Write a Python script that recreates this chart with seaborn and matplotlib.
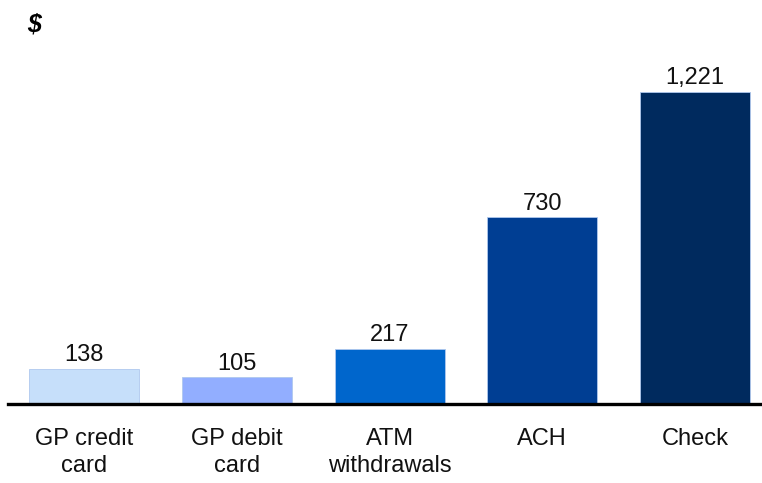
import matplotlib
matplotlib.use("Agg")
import matplotlib.pyplot as plt
import seaborn as sns
import pandas as pd

categories = ["GP credit\ncard", "GP debit\ncard", "ATM\nwithdrawals", "ACH", "Check"]
values = [138, 105, 217, 730, 1221]
colors = ["#C6DFFA", "#92AEFF", "#0066CC", "#003E93", "#002A5E"]

sns.set_theme(style="white")
plt.rcParams["font.family"] = ["Liberation Sans", "DejaVu Sans"]

df = pd.DataFrame({"category": categories, "value": values})

fig = plt.figure(figsize=(7.62, 4.83), dpi=100)
ax = fig.add_axes([8 / 762, 79 / 483, 754 / 762, 404 / 483])

sns.barplot(data=df, x="category", y="value", hue="category", palette=colors,
            saturation=1, width=0.72, legend=False, ax=ax,
            edgecolor="#AFC8EE", linewidth=0.6)

for i, v in enumerate(values):
    ax.text(i, v + 10, f"{v:,}", ha="center", va="bottom", fontsize=17, color="#111111")

ax.set_xlim(-0.5, 4.44)
ax.set_ylim(0, 1581)
ax.set_xlabel("")
ax.set_ylabel("")
ax.set_yticks([])
for s in ["top", "right", "left"]:
    ax.spines[s].set_visible(False)
ax.spines["bottom"].set_color("black")
ax.spines["bottom"].set_linewidth(2.4)
ax.tick_params(axis="x", length=0, pad=17, labelsize=17, colors="#111111")
for lbl in ax.get_xticklabels():
    lbl.set_linespacing(1.3)
    lbl.set_verticalalignment("top")

fig.text(27 / 762, 1 - 24 / 483, "$", fontsize=18, fontweight="bold", fontstyle="italic",
         ha="left", va="center", color="black")

fig.savefig("out.png", dpi=100)
